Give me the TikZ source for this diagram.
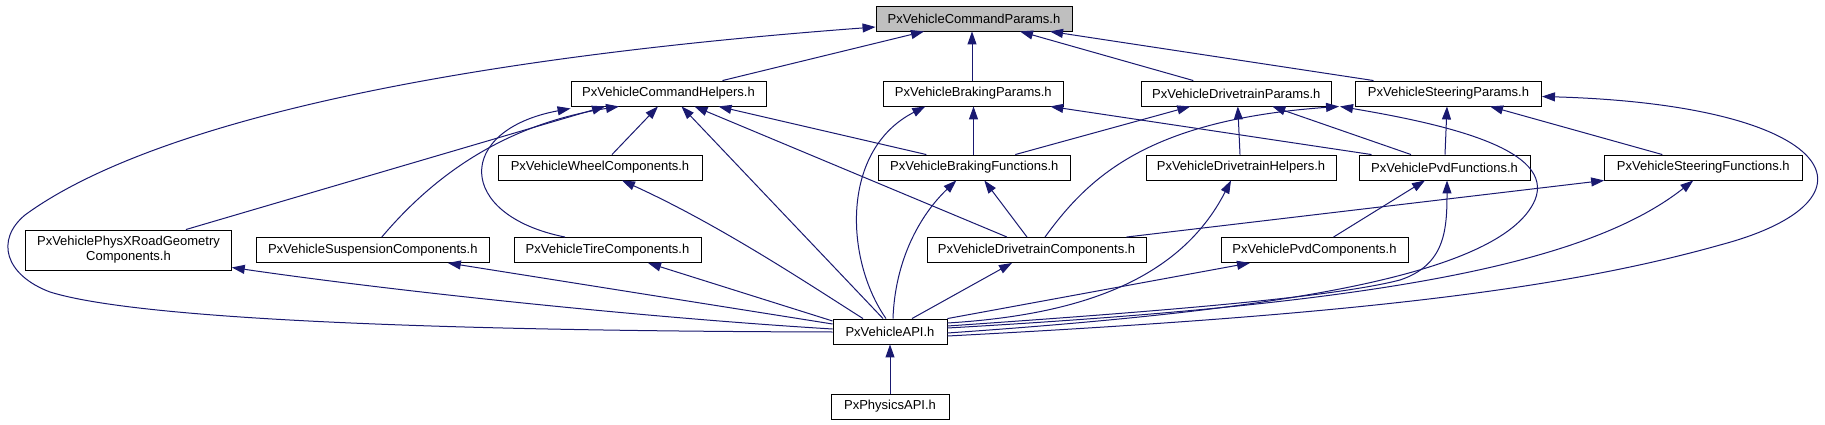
\documentclass[tikz,border=0pt]{standalone}
\usepackage{fontspec}
\setmainfont{Liberation Sans}
\usetikzlibrary{arrows.meta}
\definecolor{navy}{HTML}{191970}
\definecolor{cpgray}{HTML}{BFBFBF}
\begin{document}
\begin{tikzpicture}[x=1pt,y=-1pt,
  box/.style={draw=black, line width=0.9pt, fill=white, inner sep=0pt, minimum height=25pt,
    font=\fontsize{13}{15}\selectfont},
  dep/.style={draw=navy, line width=1pt, -{Triangle[length=13pt,width=9pt]}}]
\useasboundingbox[fill=white] (0,0) rectangle (1825,425);
% nodes
\node[box, fill=cpgray, minimum width=196pt] (CP) at (974,18.5) {PxVehicleCommandParams.h};
\node[box, minimum width=195pt] (CH) at (668.5,93.5) {PxVehicleCommandHelpers.h};
\node[box, minimum width=180pt] (BP) at (973.3,93.5) {PxVehicleBrakingParams.h};
\node[box, minimum width=190.5pt] (DP) at (1236.3,93.5) {PxVehicleDrivetrainParams.h};
\node[box, minimum width=186pt] (SP) at (1448.5,93.5) {PxVehicleSteeringParams.h};
\node[box, minimum width=204pt] (WC) at (600,167.5) {PxVehicleWheelComponents.h};
\node[box, minimum width=192.5pt] (BF) at (974.3,167.5) {PxVehicleBrakingFunctions.h};
\node[box, minimum width=190pt] (DH) at (1241,167.5) {PxVehicleDrivetrainHelpers.h};
\node[box, minimum width=171pt] (PF) at (1444.5,167.5) {PxVehiclePvdFunctions.h};
\node[box, minimum width=197.4pt] (SF) at (1703.3,167.5) {PxVehicleSteeringFunctions.h};
\node[box, minimum width=205.6pt, minimum height=40pt, align=center] (PX) at (128.5,250) {PxVehiclePhysXRoadGeometry\\Components.h};
\node[box, minimum width=233.5pt] (SC) at (372.8,250) {PxVehicleSuspensionComponents.h};
\node[box, minimum width=187pt] (TC) at (607.5,250) {PxVehicleTireComponents.h};
\node[box, minimum width=219pt] (DC) at (1036.5,250) {PxVehicleDrivetrainComponents.h};
\node[box, minimum width=187pt] (PC) at (1314.5,250) {PxVehiclePvdComponents.h};
\node[box, minimum width=114pt] (API) at (890,331.5) {PxVehicleAPI.h};
\node[box, minimum width=118pt] (PH) at (890,406.5) {PxPhysicsAPI.h};
% edges into CommandParams
\draw[dep] ([xshift=54pt]CH.north) -- ([xshift=-50pt]CP.south);
\draw[dep] ([xshift=-1.3pt]BP.north) -- ([xshift=-2pt]CP.south);
\draw[dep] ([xshift=-43pt]DP.north) -- ([xshift=46pt]CP.south);
\draw[dep] ([xshift=-75pt]SP.north) -- ([xshift=76pt]CP.south);
\draw[dep] ([yshift=-0.5pt]API.west) .. controls (450,331) and (140,320) .. (50,292)
  .. controls (5,275) and (-5,240) .. (25,215)
  .. controls (100,160) and (300,70) .. ([yshift=-8.5pt]CP.west);
% edges into CommandHelpers
\draw[dep] ([xshift=57.4pt]PX.north) -- ([xshift=-63.5pt]CH.south);
\draw[dep] ([xshift=9pt]SC.north) .. controls (430,180) and (500,125) .. ([xshift=-49.5pt]CH.south);
\draw[dep] ([xshift=-42.5pt]TC.north) .. controls (455,215) and (455,130) .. ([yshift=-2pt]CH.south west);
\draw[dep] ([xshift=12pt]WC.north) -- ([xshift=-10.5pt]CH.south);
\draw[dep] ([xshift=-7pt]API.north) -- ([xshift=13pt]CH.south);
\draw[dep] ([xshift=-29.5pt]DC.north) -- ([xshift=26pt]CH.south);
\draw[dep] ([xshift=-48pt]BF.north) -- ([xshift=50pt]CH.south);
% edges into BrakingParams
\draw[dep] ([xshift=-0.8pt]BF.north) -- ([xshift=0.2pt]BP.south);
\draw[dep] ([xshift=-4pt]API.north) .. controls (845,260) and (840,150) .. ([xshift=-48pt]BP.south);
\draw[dep] ([xshift=-73pt]PF.north) -- ([xshift=77pt]BP.south);
% edges into DrivetrainParams
\draw[dep] ([xshift=41pt]BF.north) -- ([xshift=-46pt]DP.south);
\draw[dep] ([xshift=-1pt]DH.north) -- ([xshift=1.5pt]DP.south);
\draw[dep] ([xshift=-33.5pt]PF.north) -- ([xshift=36pt]DP.south);
\draw[dep] ([yshift=-1.5pt]API.east) .. controls (1250,312) and (1500,280) .. (1535,200)
  .. controls (1555,150) and (1450,125) .. ([xshift=8pt]DP.south east);
% edges into SteeringParams
\draw[dep] ([xshift=0.5pt]PF.north) -- ([xshift=-1.5pt]SP.south);
\draw[dep] ([xshift=-41pt]SF.north) -- ([xshift=41.5pt]SP.south);
\draw[dep] ([xshift=8.5pt]DC.north) .. controls (1090,175) and (1150,120) .. ([xshift=-16pt]SP.south west);
\draw[dep] ([yshift=-4.5pt]API.east) .. controls (1350,315) and (1560,290) .. (1720,245)
  .. controls (1890,200) and (1840,105) .. ([yshift=-3pt]SP.east);
% other edges
\draw[dep] ([yshift=8.5pt]API.east) .. controls (1080,315) and (1180,280) .. ([xshift=-10pt]DH.south);
\draw[dep] ([xshift=19pt]PC.north) -- ([xshift=-19.5pt]PF.south);
\draw[dep] ([yshift=5.5pt]API.east) .. controls (1150,312) and (1330,298) .. (1400,280)
  .. controls (1445,265) and (1447,230) .. ([xshift=2.5pt]PF.south);
\draw[dep] ([xshift=-20pt]DC.north east) -- (SF.south west);
\draw[dep] ([yshift=3.5pt]API.east) .. controls (1350,305) and (1580,270) .. ([xshift=-10pt]SF.south);
\draw[dep] ([xshift=22pt]API.north) -- ([xshift=-24.5pt]DC.south);
\draw[dep] ([xshift=-9.5pt]DC.north) -- ([xshift=10pt]BF.south);
\draw[dep] ([xshift=3pt]API.north) .. controls (895,260) and (920,215) .. ([xshift=-18pt]BF.south);
\draw[dep] ([xshift=-27pt]API.north) .. controls (810,285) and (720,225) .. ([xshift=22pt]WC.south);
\draw[dep] ([yshift=2.5pt]API.west) .. controls (650,318) and (400,292) .. ([yshift=3pt]PX.south east);
\draw[dep] ([yshift=7.5pt]API.west) -- ([xshift=75pt]SC.south);
\draw[dep] ([yshift=10.5pt]API.west) -- ([xshift=40.5pt]TC.south);
\draw[dep] (API.north east) -- ([xshift=-64.5pt]PC.south);
\draw[dep] (PH.north) -- (API.south);
\end{tikzpicture}
\end{document}
